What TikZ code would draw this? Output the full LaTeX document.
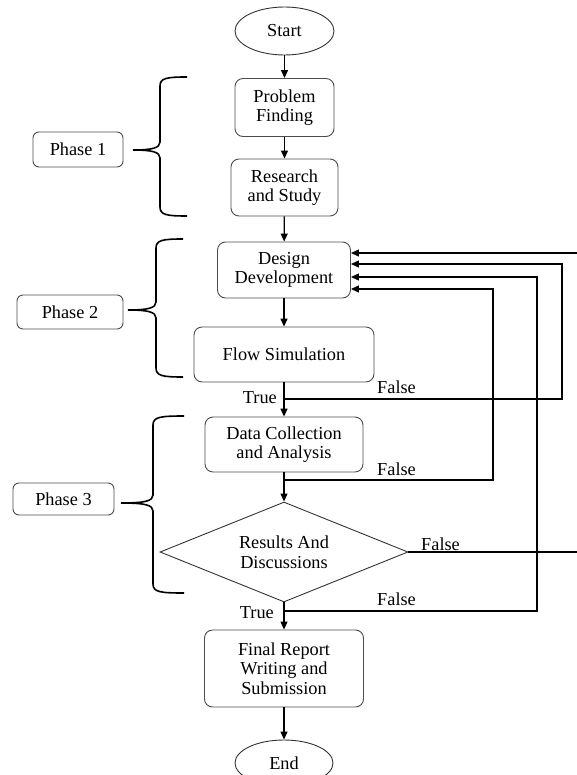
\documentclass[tikz,border=0pt]{standalone}
\usepackage{fontspec}
\setmainfont{Liberation Serif}
\usetikzlibrary{shapes.geometric,arrows.meta}
\newcommand\phbrace[6]{%
  \draw[brc] (#5,#2) .. controls (#1+7,#2) and (#1,#2+1) .. (#1,#2+9) -- (#1,#3-8)
    .. controls (#1,#3-2) and (#1-8,#3) .. (#6,#3);
  \draw[brc] (#6,#3) .. controls (#1-8,#3) and (#1,#3+2) .. (#1,#3+8) -- (#1,#4-9)
    .. controls (#1,#4-1) and (#1+7,#4) .. (#5,#4);
}
\begin{document}
\begin{tikzpicture}[x=1pt,y=-1pt,
 every node/.style={font=\fontsize{18.3}{19.5}\selectfont},
 box/.style={draw=black!70,line width=0.9pt,rounded corners=8pt,align=center,inner sep=0pt},
 phbox/.style={box,rounded corners=6pt},
 oval/.style={ellipse,draw=black!80,line width=0.9pt,inner sep=0pt},
 dec/.style={diamond,draw=black!80,line width=0.9pt,inner sep=0pt,aspect=2.5,align=center},
 arr/.style={line width=1.3pt,-{Triangle[length=8pt,width=7pt]}},
 brc/.style={line width=1.6pt},
 lbl/.style={inner sep=0pt}]
\useasboundingbox (0,0) rectangle (577,775);

% main flow nodes
\node[oval,minimum width=99pt,minimum height=48pt] (start) at (284.5,31) {Start};
\node[box,minimum width=99pt,minimum height=58pt] (pf) at (284.5,107.5) {Problem\\Finding};
\node[box,minimum width=107pt,minimum height=57pt] (rs) at (284.5,187.5) {Research\\and Study};
\node[box,minimum width=133pt,minimum height=56pt] (dd) at (284,270) {Design\\Development};
\node[box,minimum width=180pt,minimum height=55pt] (fs) at (284,354.5) {Flow Simulation};
\node[box,minimum width=158pt,minimum height=55pt] (dc) at (284,444.5) {Data Collection\\and Analysis};
\node[dec,minimum width=248pt,minimum height=100pt] (dia) at (284,552) {Results And\\Discussions};
\node[box,minimum width=159pt,minimum height=77pt] (fr) at (284,668.5) {Final Report\\Writing and\\Submission};
\node[oval,minimum width=98pt,minimum height=46pt] (end) at (284,763) {End};

% phase boxes
\node[phbox,minimum width=90pt,minimum height=35pt] (p1) at (78,149.5) {Phase 1};
\node[phbox,minimum width=106pt,minimum height=34pt] (p2) at (70,312) {Phase 2};
\node[phbox,minimum width=101pt,minimum height=32pt] (p3) at (63.5,499) {Phase 3};

% braces
\phbrace{160}{77}{150}{216}{187}{133}
\phbrace{156}{239}{310}{377}{183}{128}
\phbrace{153}{416}{503}{593}{184}{121}

% main arrows
\draw[arr] (start) -- (pf);
\draw[arr] (pf) -- (rs);
\draw[arr] (rs) -- (dd);
\draw[arr] (dd) -- (fs);
\draw[arr] (fs) -- (dc);
\draw[arr] (dc) -- (dia);
\draw[arr] (dia) -- (fr);
\draw[arr] (fr) -- (end);

% feedback loops
\coordinate (j1) at (284,399);
\coordinate (r1) at (562,264);
\draw[arr] (j1) -| (r1) -- (r1 -| dd.east);

\coordinate (j2) at (284,480);
\coordinate (r2) at (493,289);
\draw[arr] (j2) -| (r2) -- (r2 -| dd.east);

\coordinate (r3) at (579,253);
\draw[arr] (dia.east) -| (r3) -- (r3 -| dd.east);

\coordinate (j4) at (284,611);
\coordinate (r4) at (537,277);
\draw[arr] (j4) -| (r4) -- (r4 -| dd.east);

% labels
\node[lbl,anchor=base east] (t1) at (277,403) {True};
\node[lbl,anchor=base west] (f1) at (377,393) {False};
\node[lbl,anchor=base west] (f2) at (377,475) {False};
\node[lbl,anchor=base west] (f3) at (421,550) {False};
\node[lbl,anchor=base west] (f4) at (377,605) {False};
\node[lbl,anchor=base east] (t2) at (274,618) {True};
\end{tikzpicture}
\end{document}
